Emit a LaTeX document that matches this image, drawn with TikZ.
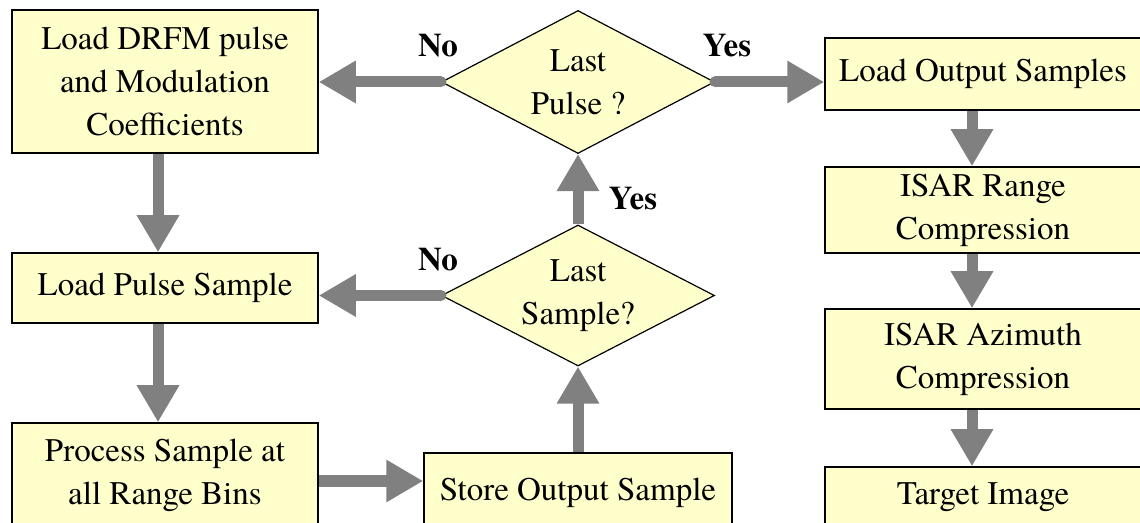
\documentclass[tikz,border=0pt]{standalone}
\usepackage{fontspec}
\setmainfont{texgyretermes}[Extension=.otf, UprightFont=*-regular, BoldFont=*-bold, ItalicFont=*-italic, BoldItalicFont=*-bolditalic]
\usetikzlibrary{shapes.geometric,arrows.meta}
\definecolor{boxfill}{HTML}{FFFFCC}
\definecolor{arrgray}{HTML}{808080}
\tikzset{
  txt/.style={font=\fontsize{33}{43}\selectfont, align=center},
  procbox/.style={txt, draw=black, line width=1.5pt, fill=boxfill, inner sep=0pt},
  decision/.style={txt, shape=diamond, aspect=1.9, draw=black, line width=1.2pt, fill=boxfill, inner sep=0pt},
  flow/.style={draw=arrgray, line width=11pt, -{Triangle[width=40pt,length=37pt]}},
  lbl/.style={font=\fontsize{33}{43}\selectfont\bfseries}
}
\begin{document}
\begin{tikzpicture}[x=1pt,y=1pt]
\useasboundingbox (0,0) rectangle (1140,522);
% left column
\node[procbox, minimum width=306pt, minimum height=143pt] (b1) at (165,440.5) {Load DRFM pulse\\and Modulation\\Coefficients};
\node[procbox, minimum width=306pt, minimum height=70pt] (b2) at (165,234) {Load Pulse Sample};
\node[procbox, minimum width=306pt, minimum height=104pt] (b3) at (165,47) {Process Sample at\\all Range Bins};
% middle column
\node[procbox, minimum width=308pt, minimum height=80pt] (b4) at (578,29) {Store Output Sample};
\node[decision, minimum width=273pt, minimum height=143pt] (d1) at (578,440) {Last\\Pulse ?};
\node[decision, minimum width=273pt, minimum height=141pt] (d2) at (578,226.5) {Last\\Sample?};
% right column
\node[procbox, minimum width=316pt, minimum height=72pt] (r1) at (983,448) {Load Output Samples};
\node[procbox, minimum width=316pt, minimum height=86pt] (r2) at (983,312) {ISAR Range\\Compression};
\node[procbox, minimum width=316pt, minimum height=100pt] (r3) at (983,163) {ISAR Azimuth\\Compression};
\node[procbox, minimum width=316pt, minimum height=60pt] (r4) at (983,25) {Target Image};
% connectors
\draw[flow, line cap=round] (d1.west) -- (d1.west -| b1.east);
\draw[flow, line cap=round] (d1.east) -- (d1.east -| r1.west);
\draw[flow] ([xshift=-7pt]b1.south) -- ([xshift=-7pt]b2.north);
\draw[flow] ([xshift=-7pt]b2.south) -- ([xshift=-7pt]b3.north);
\coordinate (c1) at ([yshift=-6pt]b3.east);
\draw[flow] (c1) -- (c1 -| b4.west);
\draw[flow] (b4.north) -- (d2.south);
\draw[flow] (d2.north) -- (d1.south);
\draw[flow, line cap=round] (d2.west) -- (d2.west -| b2.east);
\draw[flow] ([xshift=-11pt]r1.south) -- ([xshift=-11pt]r2.north);
\draw[flow] ([xshift=-11pt]r2.south) -- ([xshift=-11pt]r3.north);
\draw[flow] ([xshift=-11pt]r3.south) -- ([xshift=-11pt]r4.north);
% labels
\node[lbl] (lno1) at (438,476) {No};
\node[lbl] (lyes1) at (727,476) {Yes};
\node[lbl] (lyes2) at (633,323) {Yes};
\node[lbl] (lno2) at (438,262) {No};
\end{tikzpicture}
\end{document}
